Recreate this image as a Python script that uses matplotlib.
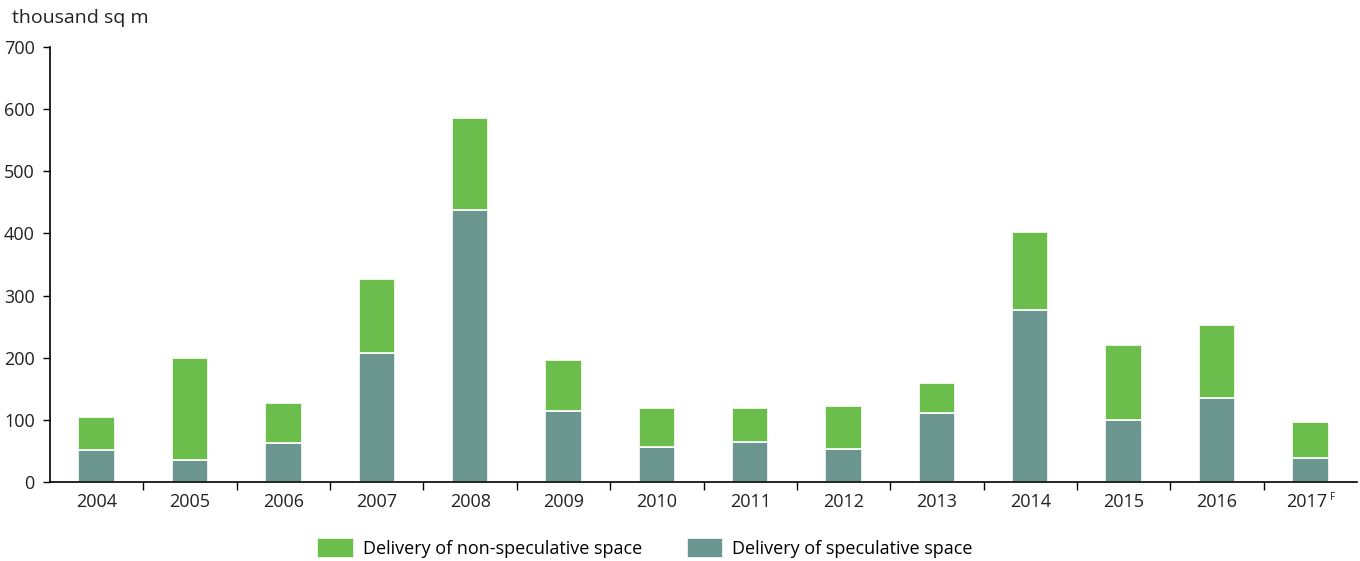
import matplotlib
matplotlib.use("Agg")
import matplotlib.pyplot as plt
import matplotlib.transforms as mtransforms
import numpy as np

years = ["2004", "2005", "2006", "2007", "2008", "2009", "2010", "2011", "2012", "2013", "2014", "2015", "2016", "2017"]
superscripts = {"2017": "F"}
speculative = [51, 35, 62, 207, 437, 114, 56, 64, 53, 111, 276, 99, 135, 38]
totals = [104, 200, 127, 327, 585, 197, 119, 119, 122, 160, 402, 220, 252, 96]
non_speculative = [t - s for t, s in zip(totals, speculative)]

plt.rcParams['font.family'] = ['Open Sans', 'DejaVu Sans']
GREEN = "#6BBE4B"
TEAL = "#6A968F"
TXT = "#222222"

fig = plt.figure(figsize=(13.6, 5.61), dpi=100)
ax = fig.add_axes([50/1360, 1-482/561, 1307/1360, 435/561])

x = np.arange(len(years))
w = 0.39
ax.bar(x, speculative, width=w, color=TEAL, edgecolor="white", linewidth=1.2, label="Delivery of speculative space")
ax.bar(x, non_speculative, width=w, bottom=speculative, color=GREEN, edgecolor="white", linewidth=1.2, label="Delivery of non-speculative space")

ax.set_xlim(-0.5, len(years) - 0.5)
ax.set_ylim(0, 700)
ax.set_yticks(range(0, 701, 100))
ax.set_xticks(x)
ax.set_xticklabels(years, fontsize=13, color=TXT)
ax.set_xticks(np.arange(0.5, len(years) - 1, 1), minor=True)
ax.tick_params(axis='x', which='major', length=0, pad=8)
ax.tick_params(axis='x', which='minor', length=6, width=1, direction='out')
ax.tick_params(axis='y', labelsize=13, labelcolor=TXT, length=5, width=1, direction='out', pad=6)
for s in ['top', 'right']:
    ax.spines[s].set_visible(False)
ax.spines['left'].set_linewidth(1.2)
ax.spines['bottom'].set_linewidth(1.2)

# superscripts on tick labels
for i, (y, lab) in enumerate(zip(years, ax.get_xticklabels())):
    if y in superscripts:
        lab.set_transform(lab.get_transform() + mtransforms.ScaledTranslation(-0.04, 0, fig.dpi_scale_trans))
        ax.annotate(superscripts[y], xy=(i, 0), xycoords=('data', 'axes fraction'),
                    xytext=(14.5, -11), textcoords='offset points', fontsize=7,
                    ha='left', va='center', color=TXT)

fig.text(12/1360, 1-18/561, "thousand sq m", fontsize=14, va='center', ha='left', color=TXT)

handles, labels = ax.get_legend_handles_labels()
fig.legend([handles[1], handles[0]], [labels[1], labels[0]], loc='center',
           bbox_to_anchor=(645/1360, 1-548/561), ncol=2, frameon=False,
           fontsize=13, handlelength=2.0, handleheight=1.4, columnspacing=2.5, handletextpad=0.5)

fig.savefig("out.png", dpi=100)
